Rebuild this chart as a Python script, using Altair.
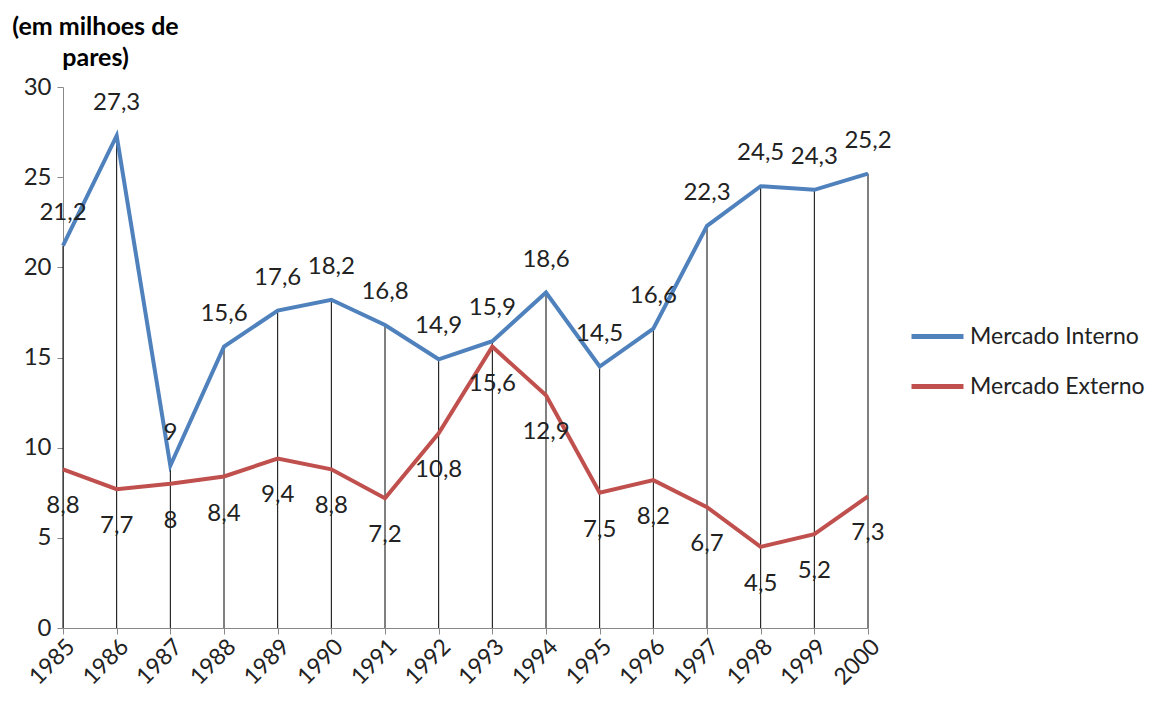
import pandas as pd
import altair as alt

anos = list(range(1985, 2001))
interno = [21.2, 27.3, 9, 15.6, 17.6, 18.2, 16.8, 14.9, 15.9, 18.6, 14.5, 16.6, 22.3, 24.5, 24.3, 25.2]
externo = [8.8, 7.7, 8, 8.4, 9.4, 8.8, 7.2, 10.8, 15.6, 12.9, 7.5, 8.2, 6.7, 4.5, 5.2, 7.3]
series = ['Mercado Interno', 'Mercado Externo']

def rotulo(v):
    return ('%g' % v).replace('.', ',')

df = pd.concat([
    pd.DataFrame({'ano': anos, 'valor': interno, 'serie': series[0]}),
    pd.DataFrame({'ano': anos, 'valor': externo, 'serie': series[1]}),
])
df['rotulo'] = df['valor'].apply(rotulo)
df_int = df[df.serie == series[0]].assign(zero=0)

FONT = 'Lato'
FS = 24

x = alt.X('ano:Q', scale=alt.Scale(domain=[1985, 2000], nice=False, zero=False),
          axis=alt.Axis(values=anos, format='d', labelAngle=-45, title=None, grid=False,
                        labelOverlap=False, labelBound=False,
                        labelFontSize=23, labelColor='#222', domainColor='#888',
                        tickColor='#888', tickSize=6, labelPadding=1))
y = alt.Y('valor:Q', scale=alt.Scale(domain=[0, 30]),
          axis=alt.Axis(values=[0, 5, 10, 15, 20, 25, 30], grid=False,
                        title=['(em milhoes de', 'pares)'], titleAngle=0,
                        titleAlign='center', titleBaseline='alphabetic',
                        titleX=32, titleY=-53, titleFontSize=25, titleFontWeight='bold',
                        titleLineHeight=31, titleColor='#000',
                        labelFontSize=FS, labelColor='#222', domainColor='#888',
                        tickColor='#888', tickSize=6, labelPadding=6))

cores = alt.Scale(domain=series, range=['#4F81BD', '#C0504D'])

quedas = alt.Chart(df_int).mark_rule(color='black', strokeWidth=1).encode(
    x=x, y=y, y2='zero:Q'
)

linhas = alt.Chart(df).mark_line(strokeWidth=4).encode(
    x=x, y=y,
    color=alt.Color('serie:N', scale=cores, sort=series,
                    legend=alt.Legend(title=None, orient='none', legendX=846, legendY=221,
                                      symbolType='stroke', symbolStrokeWidth=5,
                                      symbolSize=2700, labelFontSize=23, labelColor='#222',
                                      labelLimit=400, rowPadding=9, labelOffset=4)),
    detail='serie:N'
)

txt_int = alt.Chart(df[df.serie == series[0]]).mark_text(
    dy=-33, fontSize=FS, font=FONT, color='#222'
).encode(x=x, y=y, text='rotulo:N')

txt_ext = alt.Chart(df[df.serie == series[1]]).mark_text(
    dy=37, fontSize=FS, font=FONT, color='#222'
).encode(x=x, y=y, text='rotulo:N')

chart = alt.layer(quedas, linhas, txt_int, txt_ext).properties(
    width=805, height=541,
    autosize=alt.AutoSizeParams(type='none'),
    padding={'left': 55, 'top': 79, 'right': 279, 'bottom': 64}
).configure(font=FONT).configure_view(stroke=None)

chart.save("out.html", embed_options={"renderer": "svg", "actions": False})
